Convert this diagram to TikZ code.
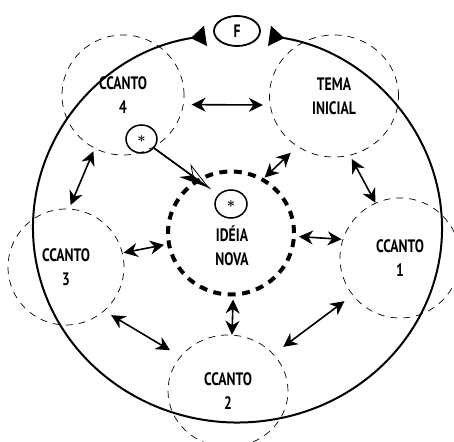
\documentclass[tikz,border=0pt]{standalone}
\usepackage{fontspec}
\usepackage{bm}
\setmainfont{PT Sans}[FakeStretch=0.76]
\usetikzlibrary{arrows.meta,shapes.geometric}
\begin{document}
\begin{tikzpicture}[x=1pt,y=-1pt,
    ring/.style={draw,ellipse,dash pattern=on 7pt off 6pt,line width=0.7pt,inner sep=0pt,align=center,font=\fontsize{18}{24}\selectfont\bfseries},
    core/.style={draw,ellipse,dash pattern=on 8pt off 6.5pt,line width=4pt,inner sep=0pt},
    starnode/.style={draw,ellipse,line width=1.5pt,inner sep=0pt,font=\fontsize{14}{14}\selectfont},
    dbl/.style={line width=1.6pt,{Stealth[length=14pt,width=14pt,inset=4.5pt]}-{Stealth[length=14pt,width=14pt,inset=4.5pt]}}]
    \useasboundingbox (0,0) rectangle (454,441);
    \node[ring,minimum width=129,minimum height=122] (tema) at (334,96) {TEMA\\INICIAL};
    \node[ring,minimum width=122,minimum height=120] (c4) at (123,95) {CCANTO\\4};
    \node[ring,minimum width=116,minimum height=116] (c3) at (66,267) {CCANTO\\3};
    \node[ring,minimum width=120,minimum height=112] (c2) at (228,391) {CCANTO\\2};
    \node[ring,minimum width=120,minimum height=120] (c1) at (400,258) {CCANTO\\1};
    \node[core,minimum width=126,minimum height=123] (idea) at (231,233) {};
    \node[align=center,font=\fontsize{18}{24}\selectfont\bfseries] (ideatxt) at (232,246) {IDÉIA\\NOVA};
    \node[starnode,minimum width=32,minimum height=28] (s2) at (231,204) {$\bm\ast$};
    \node[starnode,minimum width=31,minimum height=28] (s1) at (141.5,139) {$\bm\ast$};
    \node[draw,ellipse,line width=1.8pt,minimum width=46,minimum height=30,inner sep=0pt,font=\fontsize{18}{24}\selectfont\bfseries] (f) at (237,31) {F};
    \draw[line width=2pt,{Triangle[reversed,length=15pt,width=20pt]}-{Triangle[reversed,length=15pt,width=20pt]}]
        (237.5,228) ++(-99:204.5 and 194.5) arc[start angle=-99,end angle=-441,x radius=204.5,y radius=194.5];
    \foreach \a/\b/\s/\t in {c4.-9/tema.188/8/7, c4.242/c3.87/3/4, tema.234/idea.59/9/1,
        tema.-75/c1.114/4/0, idea.-3/c1.162/3/1, c3.14/idea.190/1/3,
        idea.-88/c2.86/3/0, c3.-49/c2.144/8/12, c1.218/c2.39/10/12}
        \draw[dbl,shorten <=\s pt,shorten >=\t pt] (\a) -- (\b);
    \draw[line width=1.5pt,shorten >=9pt,-{Stealth[harpoon,swap,length=30pt,width=17pt,inset=9pt]}] (s1) -- (s2);
    \draw[line width=1.5pt,shorten >=9pt,-{Stealth[harpoon,open,length=30pt,width=17pt,inset=9pt,line width=0.8pt]}] (s1) -- (s2);
\end{tikzpicture}
\end{document}
